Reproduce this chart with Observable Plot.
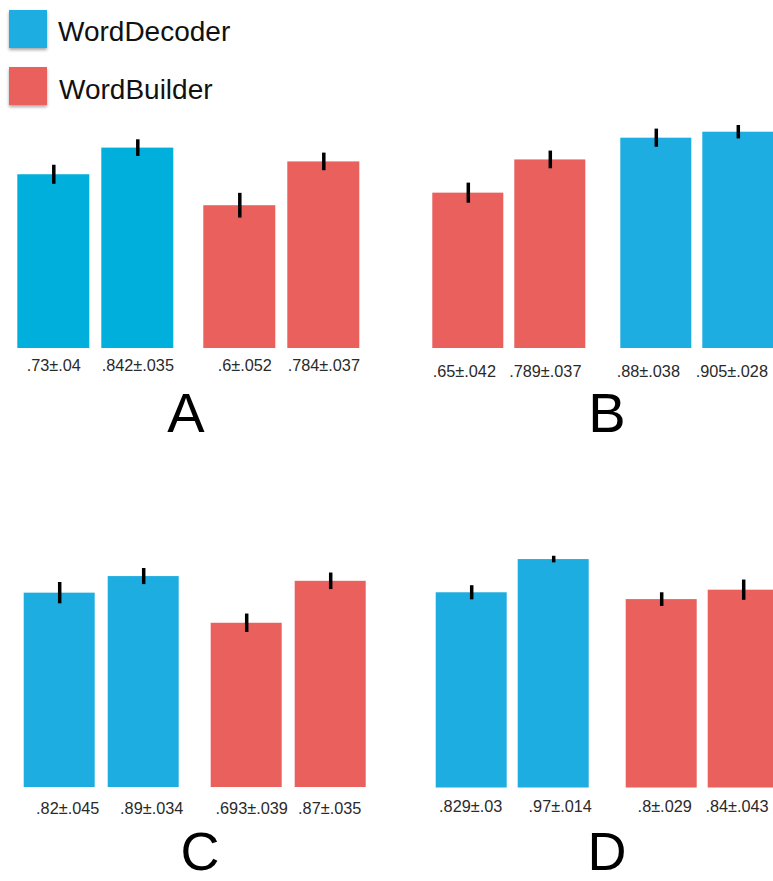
<!DOCTYPE html>
<html>
<head>
<meta charset="utf-8">
<script src="https://cdn.jsdelivr.net/npm/d3@7"></script>
<script src="https://cdn.jsdelivr.net/npm/@observablehq/plot@0.6"></script>
<style>
  html, body { margin: 0; padding: 0; background: #fff; }
  #root { position: relative; width: 773px; height: 881px; overflow: hidden; font-family: "Liberation Sans", Arial, Helvetica, sans-serif; }
  .abs { position: absolute; }
  .swatch { width: 38px; height: 38px; box-shadow: 0 2px 3px rgba(0,0,0,0.35); }
  .legtext { font-size: 28px; line-height: 28px; color: #111; white-space: nowrap; }
  .letter { line-height: 40px; color: #000; width: 200px; text-align: center; }
</style>
</head>
<body>
<div id="root"></div>
<script>
// ---- Data ----
const seriesNames = ["WordDecoder", "WordBuilder"];
const panelNames = ["A", "B", "C", "D"];

const seriesA = ["WordDecoder", "WordDecoder", "WordBuilder", "WordBuilder"];
const valuesA = [0.73, 0.842, 0.6, 0.784];
const errorsA = [0.04, 0.035, 0.052, 0.037];

const seriesB = ["WordBuilder", "WordBuilder", "WordDecoder", "WordDecoder"];
const valuesB = [0.65, 0.789, 0.88, 0.905];
const errorsB = [0.042, 0.037, 0.038, 0.028];

const seriesC = ["WordDecoder", "WordDecoder", "WordBuilder", "WordBuilder"];
const valuesC = [0.82, 0.89, 0.693, 0.87];
const errorsC = [0.045, 0.034, 0.039, 0.035];

const seriesD = ["WordDecoder", "WordDecoder", "WordBuilder", "WordBuilder"];
const valuesD = [0.829, 0.97, 0.8, 0.84];
const errorsD = [0.03, 0.014, 0.029, 0.043];

// ---- Styles / layout ----
const blueMain = "#1EADE0";
const blueA = "#00AFDB";
const red = "#E9605D";

const layout = {
  A: {series: seriesA, values: valuesA, errors: errorsA, left: 0,   width: 390, barLeft: 16.7,  barW: 72,   innerGap: 12,   facetGap: 30,   baseline: 348,   unit: 238,   labelDy: 17, labelDx: [0, 0, 5, 0],      letterX: 186, letterBase: 432,   letterFs: 56, blue: blueA},
  B: {series: seriesB, values: valuesB, errors: errorsB, left: 390, width: 400, barLeft: 430.7, barW: 72,   innerGap: 10.6, facetGap: 34.3, baseline: 348.3, unit: 239,   labelDy: 23, labelDx: [-4, -5, -8, -6.5], letterX: 607, letterBase: 432,   letterFs: 56, blue: blueMain},
  C: {series: seriesC, values: valuesC, errors: errorsC, left: 0,   width: 390, barLeft: 22.3,  barW: 72.4, innerGap: 13,   facetGap: 29.6, baseline: 786.5, unit: 237,   labelDy: 21, labelDx: [8, 8, 5, -1],     letterX: 200, letterBase: 869.5, letterFs: 54, blue: blueMain},
  D: {series: seriesD, values: valuesD, errors: errorsD, left: 390, width: 400, barLeft: 435.3, barW: 71,   innerGap: 11,   facetGap: 37.6, baseline: 787.5, unit: 235.5, labelDy: 19, labelDx: [-1, 6.5, 3, -6.7], letterX: 607, letterBase: 869.5, letterFs: 54, blue: blueMain}
};

const fmt = v => String(v).replace(/^0(?=\.)/, "");
const root = document.getElementById("root");

// ---- Legend ----
function addLegend(name, color, sqTop, textLeft, textBase) {
  const sq = document.createElement("div");
  sq.className = "abs swatch";
  sq.style.left = "9px"; sq.style.top = sqTop + "px"; sq.style.background = color;
  root.appendChild(sq);
  const t = document.createElement("div");
  t.className = "abs legtext";
  t.style.left = textLeft + "px"; t.style.top = (textBase - 0.8465 * 28) + "px";
  t.textContent = name;
  root.appendChild(t);
}
addLegend(seriesNames[0], blueMain, 10, 58, 41.5);
addLegend(seriesNames[1], red, 67, 59, 100);

// ---- Panels ----
const letterLh = 40;

for (const p of panelNames) {
  const L = layout[p];
  const rows = L.values.map((v, i) => ({
    pair: i < 2 ? "first" : "second",
    slot: i % 2,
    series: L.series[i],
    value: v,
    err: L.errors[i],
    label: fmt(v) + "±" + fmt(L.errors[i])
  }));
  const fw = 2 * L.barW + L.innerGap;
  const innerW = 2 * fw + L.facetGap;
  const marginLeft = L.barLeft - L.left;
  const marginRight = L.width - marginLeft - innerW;
  const marginTop = 20, marginBottom = 45;
  const height = marginTop + L.unit + marginBottom;
  const top = L.baseline - L.unit - marginTop;

  const labelMarks = rows.map((r, i) =>
    Plot.text([r], {fx: "pair", x: "slot", y: () => 0, text: "label", dy: L.labelDy, dx: L.labelDx[i], fontSize: 16.3, fill: "#2a2a2a"})
  );

  const chart = Plot.plot({
    width: L.width,
    height,
    marginLeft, marginRight, marginTop, marginBottom,
    style: {fontFamily: "'Liberation Sans', Arial, Helvetica, sans-serif", background: "transparent", overflow: "visible", maxWidth: "none"},
    fx: {domain: ["first", "second"], paddingInner: L.facetGap / (fw + L.facetGap), paddingOuter: 0, axis: null, label: null},
    x: {domain: [0, 1], paddingInner: L.innerGap / (L.barW + L.innerGap), paddingOuter: 0, axis: null, label: null},
    y: {domain: [0, 1], axis: null, label: null},
    color: {domain: seriesNames, range: [L.blue, red]},
    marks: [
      Plot.barY(rows, {fx: "pair", x: "slot", y: "value", fill: "series"}),
      Plot.ruleX(rows, {fx: "pair", x: "slot", y1: d => d.value - d.err, y2: d => d.value + d.err, stroke: "#000", strokeWidth: 3.5}),
      ...labelMarks
    ]
  });
  const wrap = document.createElement("div");
  wrap.className = "abs";
  wrap.style.left = L.left + "px";
  wrap.style.top = top + "px";
  wrap.style.width = L.width + "px";
  wrap.style.height = height + "px";
  wrap.appendChild(chart);
  root.appendChild(wrap);

  const fs = L.letterFs;
  const baseOff = (letterLh - 1.117 * fs) / 2 + 0.905 * fs;
  const letter = document.createElement("div");
  letter.className = "abs letter";
  letter.style.fontSize = fs + "px";
  letter.style.left = (L.letterX - 100) + "px";
  letter.style.top = (L.letterBase - baseOff) + "px";
  letter.textContent = p;
  root.appendChild(letter);
}
</script>
</body>
</html>
